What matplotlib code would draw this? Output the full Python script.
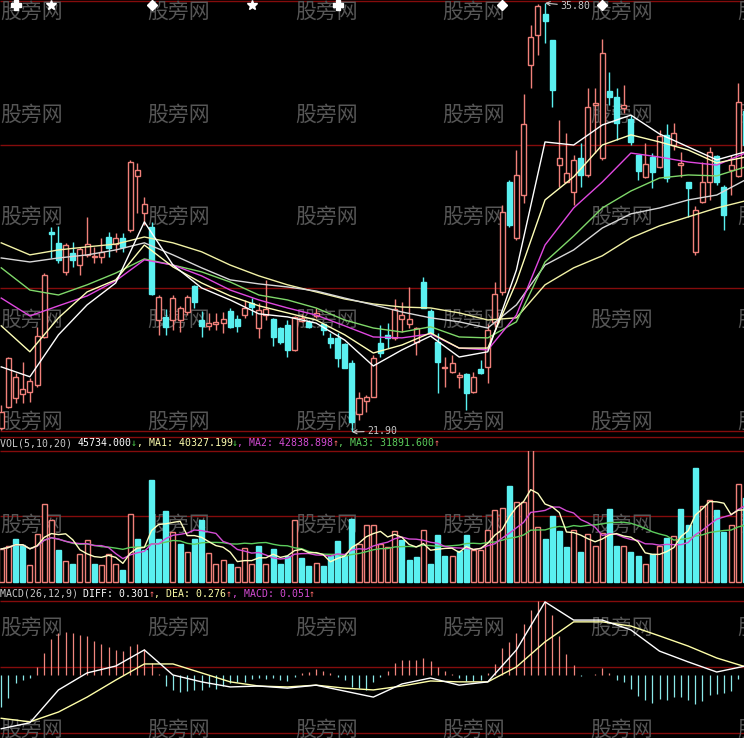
import numpy as np
import pandas as pd
import matplotlib
matplotlib.use("Agg")
import matplotlib.pyplot as plt
import matplotlib.transforms as mtransforms

# ---- 日K数据 (从截图估读) ----
opens = [22.03, 22.71, 23.00, 23.13, 23.20, 23.43, 24.98, 28.38, 28.03, 27.09,
         27.70, 27.31, 27.64, 27.57, 27.57, 28.22, 27.99, 28.19, 28.45, 30.20,
         29.00, 28.55, 25.53, 25.63, 25.53, 25.53, 25.79, 26.63, 25.53, 25.34,
         25.40, 25.43, 25.82, 25.56, 25.69, 26.08, 25.27, 25.69, 25.56, 25.27,
         25.37, 24.56, 25.50, 25.47, 25.66, 25.40, 24.95, 24.95, 24.75, 24.14,
         22.49, 22.90, 23.04, 24.79, 25.05, 24.95, 25.56, 25.40, 24.82, 26.76,
         25.82, 24.82, 23.98, 23.85, 23.69, 23.78, 23.20, 23.94, 24.01, 25.47,
         26.44, 30.00, 28.19, 29.58, 33.79, 34.77, 35.45, 34.60, 30.55, 30.00,
         29.68, 30.78, 30.23, 32.50, 30.78, 32.95, 32.76, 32.40, 32.04, 30.88,
         30.17, 30.81, 30.49, 31.53, 31.20, 30.55, 30.00, 27.74, 29.36, 30.00,
         30.85, 29.84, 30.39, 30.20, 32.30]
highs = [22.78, 24.33, 23.81, 24.17, 23.65, 25.31, 27.05, 28.55, 28.58, 28.03,
         28.06, 27.90, 28.87, 27.90, 28.19, 28.38, 28.35, 28.35, 30.72, 30.62,
         29.52, 28.71, 26.34, 25.89, 26.34, 25.99, 26.34, 26.67, 25.82, 25.76,
         25.76, 25.79, 25.92, 25.69, 26.18, 26.24, 26.08, 26.83, 25.60, 25.31,
         25.53, 25.66, 25.72, 25.53, 25.92, 25.43, 25.11, 25.11, 24.79, 24.24,
         23.20, 23.10, 24.40, 25.37, 25.43, 26.21, 26.12, 26.60, 25.31, 26.93,
         25.89, 25.11, 24.33, 24.40, 23.85, 23.81, 23.85, 24.24, 25.40, 26.76,
         29.26, 30.07, 31.04, 32.85, 35.09, 35.76, 35.80, 34.60, 32.01, 31.59,
         30.88, 31.27, 33.05, 33.05, 34.64, 33.57, 33.05, 33.15, 32.17, 30.88,
         31.27, 30.94, 31.69, 31.88, 31.91, 30.98, 30.00, 29.23, 30.65, 31.14,
         30.88, 29.90, 30.88, 33.21, 32.60]
lows = [21.97, 22.68, 22.84, 22.84, 22.88, 23.36, 24.95, 27.54, 27.38, 26.99,
        27.25, 26.99, 27.57, 27.38, 27.38, 27.57, 27.74, 27.74, 28.38, 29.00,
        28.61, 26.34, 25.05, 25.05, 25.21, 25.14, 25.69, 25.92, 24.98, 25.21,
        25.21, 25.11, 25.27, 25.14, 25.60, 25.69, 24.95, 25.53, 24.69, 24.75,
        24.33, 24.53, 25.47, 25.27, 25.60, 25.05, 24.62, 24.01, 23.98, 21.90,
        22.29, 22.55, 23.04, 24.33, 24.62, 24.88, 25.14, 25.27, 24.40, 25.92,
        25.05, 23.17, 23.36, 23.81, 23.33, 22.62, 23.17, 23.78, 23.49, 25.31,
        26.34, 28.55, 28.13, 29.32, 33.05, 34.12, 34.51, 32.43, 29.84, 30.00,
        29.26, 29.84, 30.17, 30.94, 30.72, 32.50, 31.36, 32.24, 31.20, 30.07,
        30.13, 29.81, 30.46, 30.00, 31.04, 30.17, 28.87, 27.64, 29.32, 29.42,
        29.90, 28.45, 29.58, 30.15, 31.00]
closes = [22.55, 24.30, 23.69, 23.30, 23.56, 25.01, 26.99, 28.32, 27.48, 27.96,
          27.48, 27.83, 27.99, 27.60, 27.74, 27.86, 28.19, 27.90, 30.65, 30.39,
          29.29, 26.37, 26.28, 25.31, 26.24, 25.92, 26.28, 26.12, 25.34, 25.43,
          25.47, 25.56, 25.31, 25.34, 25.92, 25.95, 25.86, 25.87, 24.98, 24.82,
          24.56, 25.63, 25.60, 25.31, 25.76, 25.21, 24.79, 24.30, 23.98, 22.23,
          23.00, 23.04, 24.30, 24.46, 24.95, 25.89, 25.69, 25.56, 25.27, 25.92,
          25.11, 24.17, 24.01, 24.14, 23.75, 23.17, 23.69, 23.81, 25.21, 26.37,
          29.03, 28.61, 30.23, 31.88, 34.70, 35.70, 35.22, 32.98, 30.78, 30.29,
          30.72, 30.23, 32.43, 32.56, 34.18, 32.76, 31.91, 32.50, 31.30, 30.36,
          30.59, 30.33, 31.49, 30.13, 31.59, 30.62, 29.81, 29.10, 30.00, 30.98,
          30.00, 28.93, 30.55, 32.60, 31.20]
volumes = [18000, 19600, 23400, 20200, 9300, 26200, 42500, 33800, 17400, 11400,
           9800, 15300, 22900, 9800, 9300, 15300, 9800, 6500, 37100, 23400,
           17400, 55600, 23400, 38700, 27300, 20700, 16400, 23400, 33800, 15800,
           9800, 12000, 9800, 8200, 18500, 9800, 19600, 9800, 18000, 9800,
           14200, 33800, 13100, 8700, 10400, 8700, 14200, 22300, 14700, 34300,
           20700, 31100, 31100, 20700, 19100, 27800, 22900, 12000, 13600, 28300,
           9800, 25600, 14200, 14200, 16900, 25600, 17400, 17400, 28300, 39200,
           40300, 52300, 43600, 43600, 71900, 30000, 23400, 36000, 27800, 19100,
           28300, 16400, 26200, 19600, 26700, 39800, 19600, 19600, 16400, 14200,
           9800, 15300, 19600, 24000, 25100, 39800, 31100, 62100, 41400, 44700,
           39200, 27300, 31100, 53400, 45734]
macd_bar = [-1.07, -0.77, -0.27, -0.17, -0.10, 0.27, 0.74, 1.21, 1.41, 1.44,
            1.41, 1.34, 1.31, 1.14, 1.04, 0.94, 0.84, 0.80, 0.97, 1.04,
            0.87, 0.40, 0.03, -0.37, -0.50, -0.57, -0.54, -0.50, -0.50, -0.40,
            -0.47, -0.37, -0.27, -0.23, -0.23, -0.13, -0.10, -0.13, -0.10, -0.17,
            -0.20, -0.07, 0.07, 0.10, 0.20, 0.13, 0.07, -0.07, -0.17, -0.40,
            -0.44, -0.50, -0.23, -0.07, 0.13, 0.40, 0.50, 0.50, 0.50, 0.57,
            0.47, 0.27, 0.13, 0.03, -0.10, -0.20, -0.20, -0.17, 0.07, 0.37,
            0.90, 1.11, 1.41, 1.71, 2.18, 2.48, 2.45, 2.01, 1.31, 0.70,
            0.34, -0.03, 0.01, 0.03, 0.23, 0.07, -0.17, -0.23, -0.47, -0.70,
            -0.84, -0.94, -0.80, -0.84, -0.74, -0.74, -0.84, -0.97, -0.87, -0.67,
            -0.64, -0.60, -0.54, -0.13, 0.051]

# 均线和DIFF/DEA每4根K线读一个点
line_idx = list(range(0, 105, 4))
ma_white = [24.01, 23.69, 25.05, 26.02, 26.73, 28.71, 27.31, 26.57, 26.18, 25.73,
            25.63, 25.43, 24.88, 24.04, 24.56, 25.01, 24.33, 24.50, 27.15, 31.30,
            31.20, 31.85, 32.17, 31.56, 31.14, 30.72, 30.98]
ma_pale = [25.34, 24.50, 25.60, 26.44, 26.83, 27.96, 27.25, 26.73, 26.31, 25.99,
           25.76, 25.53, 25.05, 24.46, 24.72, 25.11, 24.62, 24.62, 26.76, 29.42,
           30.17, 31.20, 31.53, 31.30, 31.04, 30.62, 30.81]
ma_magenta = [26.24, 25.66, 25.99, 26.31, 26.80, 27.48, 27.31, 26.96, 26.50, 26.18,
              25.92, 25.69, 25.34, 24.98, 24.95, 25.08, 24.62, 24.56, 25.69, 27.96,
              29.16, 30.00, 30.94, 30.81, 30.65, 30.55, 30.94]
ma_green = [27.22, 26.50, 26.34, 26.67, 27.05, 27.51, 27.31, 27.09, 26.76, 26.34,
            26.18, 25.92, 25.53, 25.27, 25.14, 25.31, 24.98, 24.95, 25.47, 27.41,
            28.25, 29.16, 29.71, 30.13, 30.23, 30.20, 30.49]
ma_grey = [27.54, 27.41, 27.54, 27.64, 27.80, 28.03, 27.64, 27.22, 26.83, 26.70,
           26.60, 26.47, 26.24, 26.02, 25.79, 25.60, 25.47, 25.27, 26.02, 27.31,
           27.80, 28.51, 28.97, 29.16, 29.42, 29.58, 30.07]
ma_yellow = [28.03, 27.64, 27.80, 27.90, 27.99, 28.22, 28.03, 27.74, 27.31, 26.96,
             26.67, 26.44, 26.21, 26.05, 25.95, 25.92, 25.76, 25.53, 25.60, 26.67,
             27.22, 27.61, 28.19, 28.58, 28.87, 29.16, 29.39]
diff_line = [-1.80, -1.60, -0.50, 0.07, 0.30, 0.84, 0.00, -0.23, -0.40, -0.37,
             -0.44, -0.34, -0.54, -0.74, -0.30, -0.10, -0.34, -0.23, 0.84, 2.45,
             1.84, 1.84, 1.51, 0.80, 0.44, 0.10, 0.301]
dea_line = [-1.45, -1.57, -1.24, -0.74, -0.17, 0.37, 0.37, 0.07, -0.23, -0.37,
            -0.40, -0.34, -0.44, -0.50, -0.37, -0.20, -0.23, -0.23, 0.27, 1.11,
            1.78, 1.78, 1.64, 1.31, 0.97, 0.57, 0.276]

# 信息地雷
mine_idx = [2, 7, 21, 35, 47, 70, 84]
mine_mark = ['P', '*', 'D', '*', 'P', 'D', 'D']

RED = '#f0807a'
CYAN = '#5af0f0'
GRID = '#840c0c'
MONO = 'DejaVu Sans Mono'

W, H = 744, 738
fig = plt.figure(figsize=(W / 100, H / 100), dpi=100, facecolor='black')

# 背景层: 网格线, 水印, 标题文字 (像素坐标)
bg = fig.add_axes([0, 0, 1, 1], zorder=0)
bg.set_xlim(0, W)
bg.set_ylim(H, 0)
bg.axis('off')
bg.hlines([1, 145, 288, 431, 437, 451, 516, 587, 601, 667, 733], 0, W, color=GRID, lw=1)
for row in [12, 115, 217, 320, 422, 525, 628, 730]:
    for col in [0, 147.5, 295, 442.5, 590, 737.5]:
        bg.text(col, row, '股旁网', fontsize=15, color='#565656',
                family='Noto Sans CJK SC', va='center', ha='left')


def panel(top, bottom):
    ax = fig.add_axes([0, 1 - bottom / H, 1, (bottom - top) / H], zorder=1)
    ax.set_facecolor('none')
    ax.set_xlim(-0.175, 103.81)
    ax.axis('off')
    return ax


x = np.arange(len(closes))
o, h, l, c = map(np.array, (opens, highs, lows, closes))
up = c >= o
top = np.maximum(o, c)
bot = np.minimum(o, c)

# ---- 主图 K线 ----
ax1 = panel(2, 432)
ax1.set_ylim(21.90, 35.835)
ax1.vlines(x[~up], l[~up], h[~up], color=CYAN, lw=1, zorder=2)
ax1.vlines(x[up], top[up], h[up], color=RED, lw=1, zorder=2)
ax1.vlines(x[up], l[up], bot[up], color=RED, lw=1, zorder=2)
ax1.bar(x, top - bot, bottom=bot, width=0.7,
        color=np.where(up, 'black', CYAN), edgecolor=np.where(up, RED, CYAN),
        linewidth=1, zorder=3)

for vals, col in [(ma_yellow, '#f2f2a6'), (ma_grey, '#d8d8d8'), (ma_green, '#7fd86a'),
                  (ma_magenta, '#e048e0'), (ma_pale, '#ffffb8'), (ma_white, '#ffffff')]:
    ax1.plot(line_idx, vals, color=col, lw=1, zorder=4)

trans = mtransforms.blended_transform_factory(ax1.transData, ax1.transAxes)
for i, m in zip(mine_idx, mine_mark):
    ax1.plot(i, 0.994, marker=m, color='white', ms=7 if m != 'D' else 5,
             transform=trans, clip_on=False, zorder=5)

ax1.annotate('35.80', xy=(76, 35.80), xytext=(15, -3), textcoords='offset pixels',
             color='#c8c8c8', fontsize=7.1, family=MONO, va='center', ha='left',
             arrowprops=dict(arrowstyle='->', color='#c8c8c8', lw=0.8,
                             shrinkA=0, shrinkB=0))
ax1.annotate('21.90', xy=(49, 21.90), xytext=(15, 1), textcoords='offset pixels',
             color='#c8c8c8', fontsize=7.1, family=MONO, va='center', ha='left',
             arrowprops=dict(arrowstyle='->', color='#c8c8c8', lw=0.8,
                             shrinkA=0, shrinkB=0), annotation_clip=False)

# ---- 成交量 ----
ax2 = panel(451, 584)
ax2.set_ylim(-1090, 71395)
vup = np.r_[True, c[1:] >= c[:-1]]
ax2.bar(x, volumes, width=0.7, color=np.where(vup, 'black', CYAN),
        edgecolor=np.where(vup, RED, CYAN), linewidth=1, zorder=2)
vs = pd.Series(volumes, dtype=float)
for n, col in [(20, '#5ccc5c'), (10, '#d44cd4'), (5, '#ffffc0')]:
    ax2.plot(x, vs.rolling(n, min_periods=1).mean(), color=col, lw=1, zorder=3)

# ---- MACD ----
ax3 = panel(601, 733)
ax3.set_ylim(-1.943, 2.479)
mb = np.array(macd_bar)
ax3.vlines(x, 0, mb, colors=np.where(mb >= 0, '#f0867e', '#8ae8e8'), lw=0.9, zorder=2)
ax3.plot(line_idx, dea_line, color='#ffffa8', lw=1, zorder=3)
ax3.plot(line_idx, diff_line, color='white', lw=1, zorder=3)

# ---- 指标标题 ----
FS = 7.1
CW = 0.602 * FS * 100 / 72


def header(y, parts):
    pos = 0
    for s, col in parts:
        bg.text(pos * CW, y, s, color=col, fontsize=FS, family=MONO, va='center', ha='left')
        pos += len(s)


UPC = '#ff6a6a'
DNC = '#4ccc4c'
header(443, [('VOL(5,10,20) ', '#c8c8c8'), ('45734.000', 'white'), ('↓', DNC),
             (', MA1: 40327.199', '#ffffb0'), ('↓', DNC),
             (', MA2: 42838.898', '#d44cd4'), ('↑', UPC),
             (', MA3: 31891.600', '#5ccc5c'), ('↑', UPC)])
header(594, [('MACD(26,12,9) ', '#c8c8c8'), ('DIFF: 0.301', 'white'), ('↑', UPC),
             (', DEA: 0.276', '#ffffa8'), ('↑', UPC),
             (', MACD: 0.051', '#d44cd4'), ('↑', UPC)])

fig.savefig('out.png', dpi=100, facecolor='black')
